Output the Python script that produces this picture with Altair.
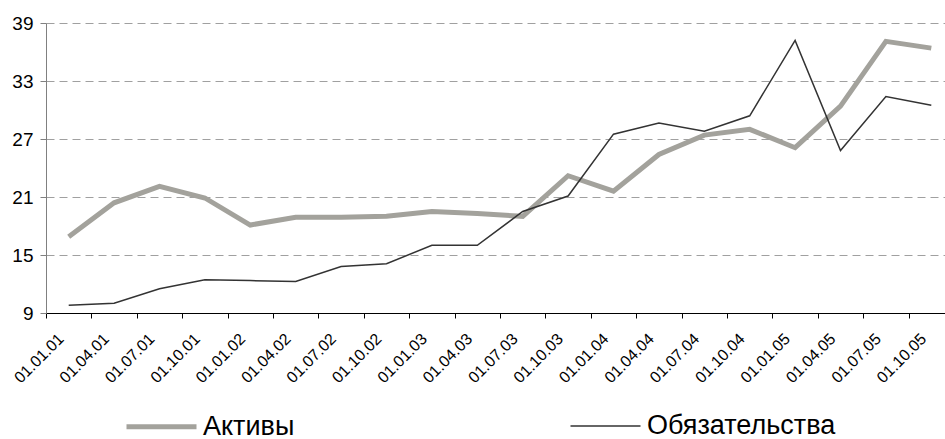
import altair as alt
import pandas as pd

categories = ["01.01.01", "01.04.01", "01.07.01", "01.10.01", "01.01.02", "01.04.02",
              "01.07.02", "01.10.02", "01.01.03", "01.04.03", "01.07.03", "01.10.03",
              "01.01.04", "01.04.04", "01.07.04", "01.10.04", "01.01.05", "01.04.05",
              "01.07.05", "01.10.05"]
aktivy = [16.9, 20.4, 22.1, 20.9, 18.1, 18.9, 18.9, 19.0, 19.5, 19.3,
          19.0, 23.2, 21.6, 25.4, 27.4, 28.0, 26.1, 30.4, 37.1, 36.4]
obyaz = [9.8, 10.0, 11.5, 12.45, 12.35, 12.25, 13.8, 14.1, 16.0, 16.0,
         19.5, 21.1, 27.5, 28.65, 27.8, 29.4, 37.2, 25.8, 31.4, 30.5]
series = ["Активы", "Обязательства"]
y_ticks = [9, 15, 21, 27, 33, 39]

rows = []
for i, c in enumerate(categories):
    rows.append({"date": c, "series": series[0], "value": aktivy[i], "order": i})
    rows.append({"date": c, "series": series[1], "value": obyaz[i], "order": i})
df = pd.DataFrame(rows)

FONT = "Liberation Sans"

legend_opts = dict(title=None, orient="none", legendX=78, legendY=366,
                   direction="horizontal", columns=2, columnPadding=272,
                   symbolType="stroke", symbolSize=4900,
                   labelFont=FONT, labelFontSize=27, labelColor="#000000",
                   labelOffset=4, labelLimit=400)

chart = alt.Chart(df).mark_line(strokeJoin="miter").encode(
    x=alt.X("date:N", sort=categories,
            scale=alt.Scale(type="band", domain=categories, paddingInner=0, paddingOuter=0,
                            range=[0, 908]),
            axis=alt.Axis(title=None, tickBand="extent", labelAngle=315, labelAlign="right",
                          labelBaseline="middle", labelFont=FONT, labelFontSize=16,
                          labelColor="#000000", labelPadding=18, labelOffset=-8,
                          tickSize=5, tickColor="#000000", domainColor="#000000",
                          grid=False, labelOverlap=False)),
    y=alt.Y("value:Q",
            scale=alt.Scale(domain=[9, 39], nice=False, zero=False),
            axis=alt.Axis(title=None, values=y_ticks, labelFont=FONT, labelFontSize=19,
                          labelColor="#000000", tickSize=6, tickColor="#808080",
                          domainColor="#808080", labelPadding=7, grid=True,
                          gridDash=[8, 5], gridColor="#a0a0a0", gridWidth=1)),
    color=alt.Color("series:N",
                    scale=alt.Scale(domain=series, range=["#a3a29c", "#333333"]),
                    legend=alt.Legend(**legend_opts)),
    strokeWidth=alt.StrokeWidth("series:N",
                                scale=alt.Scale(domain=series, range=[5, 1.5]),
                                legend=alt.Legend(**legend_opts)),
    order="order:Q",
).properties(
    width=899, height=290,
    autosize=alt.AutoSizeParams(type="none"),
    padding={"left": 46, "top": 23, "right": 0, "bottom": 126},
    background="white",
).configure_view(stroke=None)

chart.save("out.html", embed_options={"renderer": "svg", "actions": False})
